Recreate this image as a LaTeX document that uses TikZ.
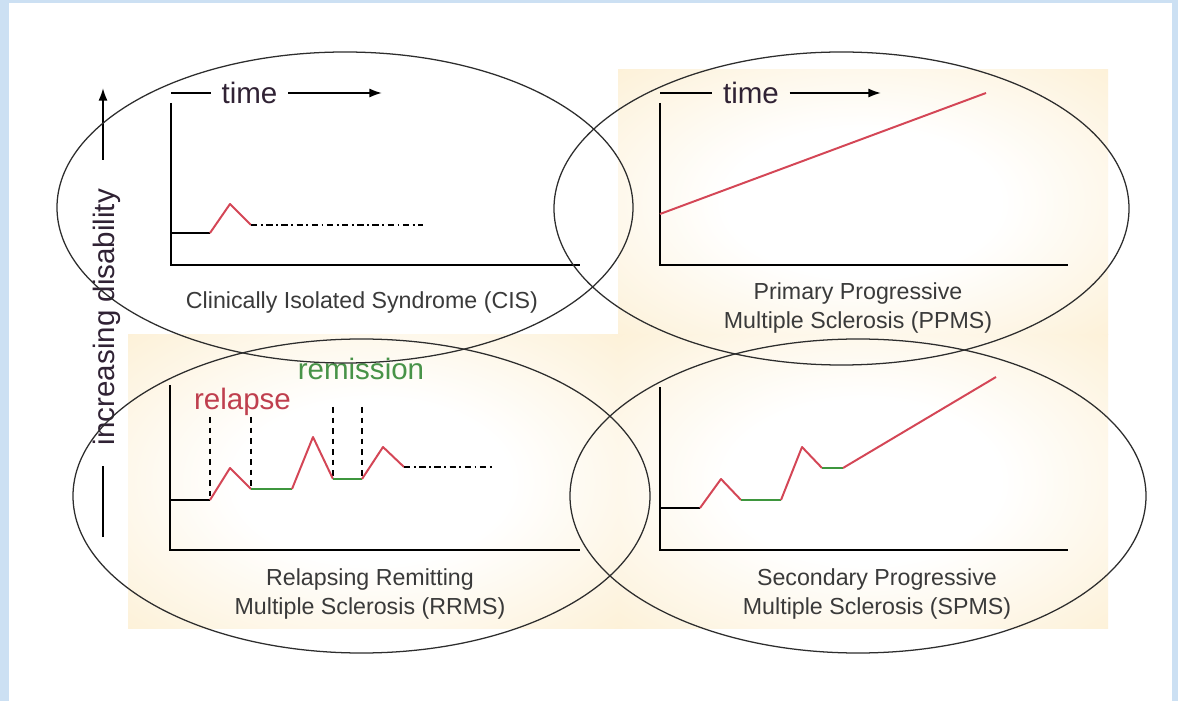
\documentclass[tikz,border=0pt]{standalone}
\usepackage{fontspec}
\setmainfont{Liberation Sans}
\usetikzlibrary{arrows.meta}

\definecolor{frameblue}{RGB}{204,224,243}
\definecolor{peach}{RGB}{252,237,205}
\definecolor{flare}{RGB}{212,70,86}
\definecolor{calm}{RGB}{62,150,62}
\definecolor{ovalink}{RGB}{45,45,45}
\definecolor{capink}{RGB}{58,58,58}
\definecolor{timeink}{RGB}{48,34,52}

\pgfdeclareradialshading{glow}{\pgfpoint{0bp}{0bp}}{color(0bp)=(white); color(14bp)=(white); color(42bp)=(peach); color(50bp)=(peach)}

\tikzset{
  axis/.style={line width=2pt},
  flare/.style={draw=flare, line width=1.4pt, line join=round},
  calm/.style={draw=calm, line width=1.4pt},
  base/.style={draw=black, line width=1.4pt},
  dotdash/.style={line width=1.1pt, dash pattern=on 4.5pt off 2.5pt on 1.3pt off 2.5pt},
  markline/.style={line width=1.1pt, dash pattern=on 4pt off 3.5pt},
  oval/.style={draw=ovalink, line width=0.9pt},
  tip/.style={-{Latex[length=9pt, width=6.5pt]}},
  tick/.style={text=timeink, inner sep=7.5pt, font=\fontsize{21}{24}\selectfont},
  caption/.style={text=capink, align=center, font=\fontsize{16.5}{20.5}\selectfont}
}

\begin{document}
\begin{tikzpicture}[x=0.025cm, y=-0.025cm]
	\fill[frameblue] (0,0) rectangle (1178,701);
	\fill[white] (9,3) rectangle (1172,701);
	\useasboundingbox (0,0) rectangle (1178,701);
	% beige panels
	\shade[shading=glow] (618,70) rectangle (1108,335);
	\shade[shading=glow] (128,335) rectangle (618,628);
	\shade[shading=glow] (618,335) rectangle (1108,628);

	% side label
	\node[rotate=90, anchor=base, font=\fontsize{21}{24}\selectfont, text=timeink] (disab) at (114,317) {increasing disability};
	\coordinate (lowA) at (103,537);
	\coordinate (lowB) at (103,466);
	\coordinate (highA) at (103,160);
	\coordinate (highB) at (103,88);
	\draw[line width=1.4pt] (lowA) -- (lowB);
	\draw[line width=1.4pt, tip] (highA) -- (highB);

	% CIS
	\draw[axis] (171,103) -- (171,265) -- (580,265);
	\node[tick] (tcis) at (249.5,93) {time};
	\coordinate (tcisA) at (171,93);
	\coordinate (tcisB) at (382,93);
	\draw[line width=1.4pt] (tcisA) -- (tcis.west);
	\draw[line width=1.4pt, tip] (tcis.east) -- (tcisB);
	\draw[base] (171,233) -- (210,233);
	\draw[flare] (210,233) -- (230,204) -- (251,225);
	\draw[dotdash] (251,225) -- (423,225);
	\node[caption] (cis) at (362,303) {Clinically Isolated Syndrome (CIS)};

	% PPMS
	\draw[axis] (660,103) -- (660,265) -- (1068,265);
	\node[tick] (tppms) at (751,93) {time};
	\coordinate (tppmsA) at (660,93);
	\coordinate (tppmsB) at (881,93);
	\draw[line width=1.4pt] (tppmsA) -- (tppms.west);
	\draw[line width=1.4pt, tip] (tppms.east) -- (tppmsB);
	\draw[flare] (660,214) -- (986,93);
	\node[caption] (ppms) at (858,308) {Primary Progressive\\Multiple Sclerosis (PPMS)};

	% RRMS
	\draw[axis] (170,385) -- (170,550) -- (580,550);
	\draw[markline] (210,417) -- (210,500);
	\draw[markline] (251,417) -- (251,489);
	\draw[markline] (333,407) -- (333,479);
	\draw[markline] (362,407) -- (362,479);
	\draw[base] (170,500) -- (210,500);
	\draw[flare] (210,500) -- (230,468) -- (251,489);
	\draw[calm] (251,489) -- (292,489);
	\draw[flare] (292,489) -- (313,437) -- (333,479);
	\draw[calm] (333,479) -- (362,479);
	\draw[flare] (362,479) -- (383,447) -- (404,467);
	\draw[dotdash] (404,467) -- (492,467);
	\node[anchor=base, text=flare!90!black, font=\fontsize{21}{24}\selectfont] (relapse) at (242.5,410) {relapse};
	\node[anchor=base, text=calm!85!gray, font=\fontsize{21}{24}\selectfont] (remission) at (361,380) {remission};
	\node[caption] (rrms) at (370,594) {Relapsing Remitting\\Multiple Sclerosis (RRMS)};

	% SPMS
	\draw[axis] (660,387) -- (660,550) -- (1068,550);
	\draw[base] (660,508) -- (700,508);
	\draw[flare] (700,508) -- (721,479) -- (741,500);
	\draw[calm] (741,500) -- (781,500);
	\draw[flare] (781,500) -- (802,447) -- (822,468);
	\draw[calm] (822,468) -- (843,468);
	\draw[flare] (843,468) -- (996,377);
	\node[caption] (spms) at (877,594) {Secondary Progressive\\Multiple Sclerosis (SPMS)};

	% ovals on top
	\draw[oval] (345,207.5) ellipse [x radius=288, y radius=155.5];
	\draw[oval] (841.5,208.5) ellipse [x radius=287.5, y radius=156.5];
	\draw[oval] (361.5,496) ellipse [x radius=288.5, y radius=157];
	\draw[oval] (858,496) ellipse [x radius=288, y radius=157];
\end{tikzpicture}
\end{document}
